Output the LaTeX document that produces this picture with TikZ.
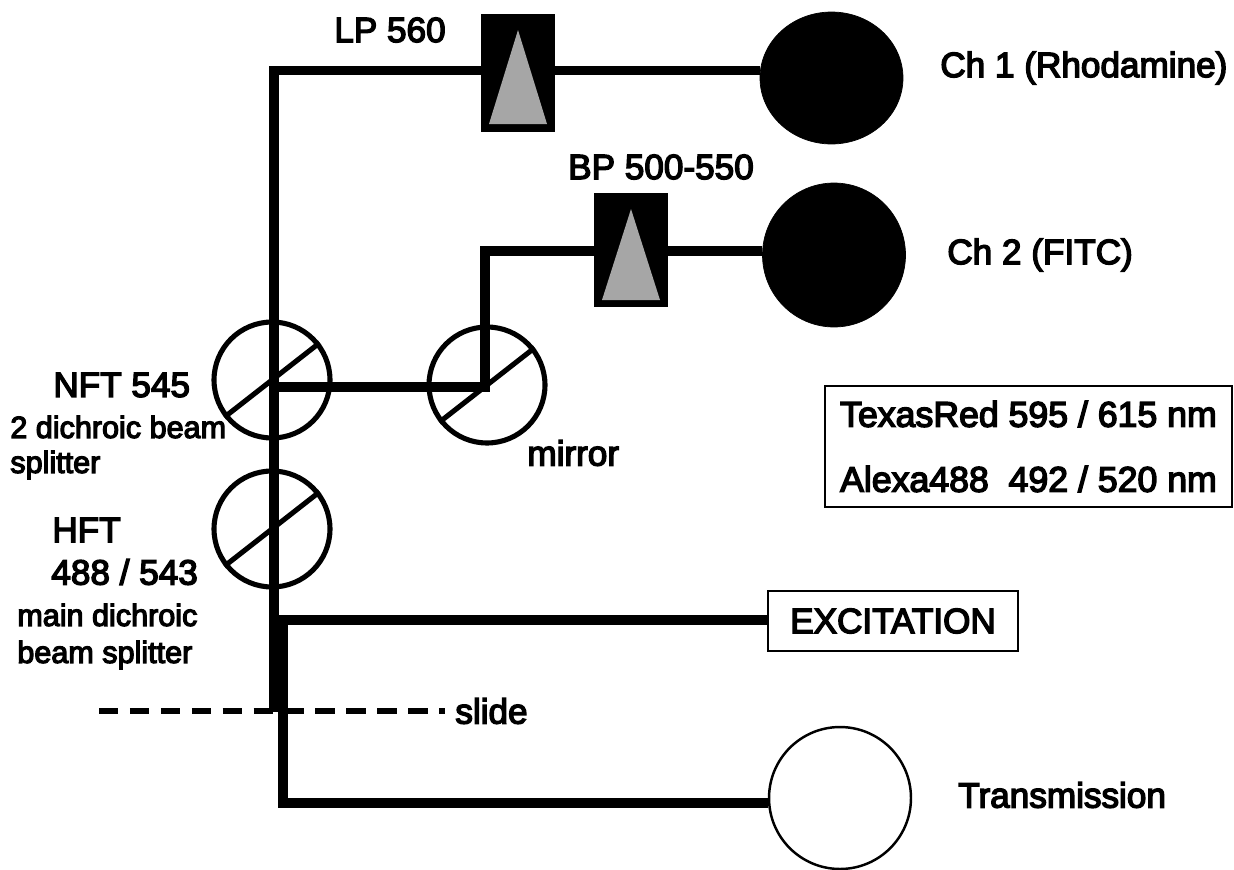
\documentclass[tikz,border=0pt]{standalone}
\usepackage{fontspec}
\setmainfont[BoldFont={Liberation Sans},BoldFeatures={FakeBold=4}]{Liberation Sans}
\usetikzlibrary{calc, shapes.geometric}
\tikzset{
  beam/.style={line width=5.6pt, line join=miter},
  filter/.style={draw=none, fill=black, minimum width=1.48cm, minimum height=2.32cm},
  wedge/.style={fill=black!35, draw=none},
  detector/.style={ellipse, draw=black, fill=black, minimum width=2.86cm, minimum height=2.88cm, inner sep=0pt},
  splitter/.style={circle, draw=black, line width=2.9pt, minimum size=2.32cm, inner sep=0pt},
  label/.style={font=\fontsize{20}{24}\selectfont\bfseries, inner sep=0pt},
  small/.style={font=\fontsize{17.4}{20}\selectfont\bfseries, inner sep=0pt},
  frame/.style={draw=black, line width=1.5pt, inner sep=0pt}
}
\begin{document}
\begin{tikzpicture}[x=0.02cm, y=-0.02cm]
  \useasboundingbox (0,0) rectangle (1234,869);

  % filters and detectors
  \node[filter,minimum height=2.36cm] (lp) at (518,73) {};
  \node[filter,minimum height=2.28cm] (bp) at (631,250) {};
  \node[detector,minimum height=2.64cm] (ch1) at (831.5,78) {};
  \node[detector] (ch2) at (834,255) {};
  \node[detector,fill=white,line width=1.4pt,minimum width=2.84cm,minimum height=2.84cm] (trans) at (840,798) {};
  \foreach \x/\t/\b in {518/30/124, 631/209/300}
    \fill[wedge] (\x,\t) -- (\x-29,\b) -- (\x+29,\b) -- cycle;

  % beam splitters
  \node[splitter] (nft) at (272,380) {};
  \node[splitter] (hft) at (272,529) {};
  \node[splitter] (mir) at (487,385) {};
  \foreach \s in {nft,hft,mir}
    \draw[line width=2.9pt] (\s.218) -- (\s.38);

  % beam path
  \coordinate (top) at (274,70.5);
  \coordinate (jnft) at (274,387);
  \coordinate (jexc) at (274,620);
  \coordinate (jslide) at (274,712);
  \coordinate (jlow) at (283,712);
  \coordinate (jbot) at (283,803);
  \coordinate (jmir) at (485,387);
  \coordinate (jbp) at (485,251);
  \coordinate (thick1) at (278.5,622);
  \coordinate (thick2) at (278.5,712);
  \coordinate (slideL) at (99,711);
  \coordinate (slideR) at (445,711);

  \node[frame,minimum width=5cm,minimum height=1.2cm,label] (exc) at (893,621) {EXCITATION\hspace{0.16cm}};

  \draw[beam] (top -| lp.west) -- (top) -- (jslide);
  \draw[beam] (top -| lp.east) -- (top -| ch1.west);
  \draw[beam] (jnft) -- (jmir) -- (jbp) -- (jbp -| bp.west);
  \draw[beam] (jbp -| bp.east) -- (jbp -| ch2.west);
  \draw[beam] (jexc) -- (jexc -| exc.west);
  \draw[line width=10.8pt] (thick1) -- (thick2);
  \draw[beam] (jlow) -- (jbot) -- (jbot -| trans.west);
  \draw[line width=3.4pt, dash pattern=on 11pt off 6.6pt] (slideL) -- (slideR);

  % labels
  \node[label] (lplab) at (390,30) {LP 560};
  \node[label] (bplab) at (661,167) {BP 500-550};
  \node[label,anchor=west] (ch1lab) at (940,68) {Ch 1 (Rhodamine)};
  \node[label,anchor=west] (ch2lab) at (947,255) {Ch 2 (FITC)};
  \node[label,anchor=west] (nftlab) at (53,385) {NFT 545};
  \node[small,anchor=west] (nftsub) at (10,427) {2 dichroic beam};
  \node[small,anchor=west] (nftsubb) at (10,465) {splitter};
  \node[label,anchor=west] (hftlab) at (52,530) {HFT};
  \node[label,anchor=west] (hftnum) at (51,572) {488 / 543};
  \node[small,anchor=west] (hftsub) at (17,615) {main dichroic};
  \node[small,anchor=west] (hftsubb) at (17,655) {beam splitter};
  \node[label,anchor=west] (slidelab) at (455,711) {slide};
  \node[label,anchor=west] (mirlab) at (527,453) {mirror};
  \node[label,anchor=west] (translab) at (958,795) {Transmission};
  \node[frame,minimum width=8.14cm,minimum height=2.42cm,align=left,font=\fontsize{20.3}{37}\selectfont\bfseries] (dyes) at (1028.5,446.5) {TexasRed 595 / 615 nm\\Alexa488\ \ 492 / 520 nm};
\end{tikzpicture}
\end{document}
